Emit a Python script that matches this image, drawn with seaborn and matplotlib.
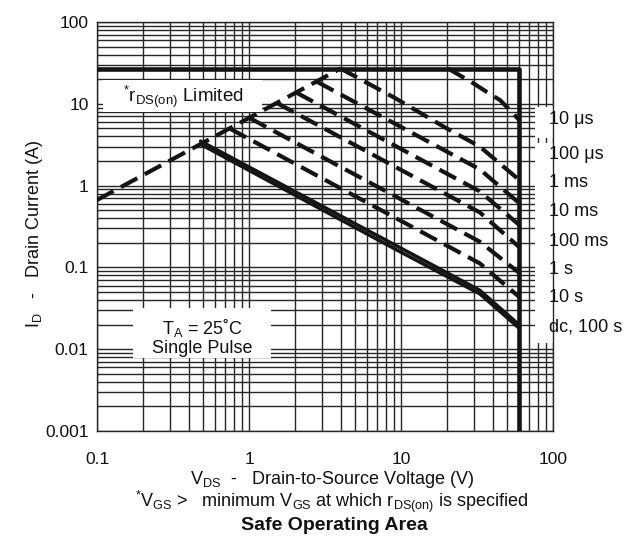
import matplotlib
matplotlib.use("Agg")
import matplotlib.pyplot as plt
from matplotlib.patches import Rectangle
import seaborn as sns
from matplotlib.ticker import LogLocator, FixedLocator, FixedFormatter, NullFormatter

sns.set_theme(style="white")
plt.rcParams["font.family"] = ["Liberation Sans", "DejaVu Sans"]
plt.rcParams["mathtext.fontset"] = "custom"
plt.rcParams["mathtext.rm"] = "Liberation Sans"
plt.rcParams["mathtext.it"] = "Liberation Sans:italic"
plt.rcParams["mathtext.bf"] = "Liberation Sans:bold"

# ---- data -------------------------------------------------------------
# package current limit, then the 60 V breakdown edge
limit_v = [0.1, 60, 60]
limit_i = [27, 27, 0.001]

# on-resistance limit
rds_v = [0.1, 4.0]
rds_i = [0.667, 27]

# single-pulse curves (V, A)
p10us_v = [20.4, 29.8, 36.8, 44.8, 52.1, 60]
p10us_i = [27, 17.9, 13.9, 11.1, 8.4, 6.3]

p100us_v = [4.0, 9.1, 20, 33, 60]
p100us_i = [27, 11.8, 5.0, 3.0, 1.17]

p1ms_v = [2.8, 33, 60]
p1ms_i = [18.6, 1.58, 0.61]

p10ms_v = [2.05, 33, 60]
p10ms_i = [13.7, 0.85, 0.33]

p100ms_v = [1.53, 33, 60]
p100ms_i = [10.2, 0.47, 0.177]

p1s_v = [1.01, 33, 60]
p1s_i = [6.7, 0.206, 0.0855]

p10s_v = [0.745, 33, 60]
p10s_i = [5.0, 0.112, 0.0435]

dc_v = [0.48, 9.4, 33, 60]
dc_i = [3.2, 0.163, 0.0475, 0.018]

dc100_v = [0.48, 33, 60]
dc100_i = [3.5, 0.0525, 0.0198]

x_ticks = [0.1, 1, 10, 100]
x_tick_labels = ["0.1", "1", "10", "100"]
y_ticks = [0.001, 0.01, 0.1, 1, 10, 100]
y_tick_labels = ["0.001", "0.01", "0.1", "1", "10", "100"]

pulse_labels = ["10 μs", "100 μs", "1 ms", "10 ms", "100 ms", "1 s", "10 s", "dc, 100 s"]
pulse_label_i = [6.34, 2.37, 1.076, 0.489, 0.21, 0.093, 0.0423, 0.0187]

# ---- figure -------------------------------------------------------------
W, H = 625, 542
fig = plt.figure(figsize=(W / 100, H / 100), dpi=100)
ax = fig.add_axes([97 / W, 1 - 431 / H, 456 / W, 409 / H])
ax.set_xscale("log")
ax.set_yscale("log")
ax.set_xlim(0.1, 100)
ax.set_ylim(0.001, 100)

# dense datasheet grid
ax.xaxis.set_major_locator(FixedLocator(x_ticks))
ax.xaxis.set_major_formatter(FixedFormatter(x_tick_labels))
ax.yaxis.set_major_locator(FixedLocator(y_ticks))
ax.yaxis.set_major_formatter(FixedFormatter(y_tick_labels))
ax.xaxis.set_minor_locator(LogLocator(base=10, subs=range(2, 10)))
ax.yaxis.set_minor_locator(LogLocator(base=10, subs=range(2, 10)))
ax.xaxis.set_minor_formatter(NullFormatter())
ax.yaxis.set_minor_formatter(NullFormatter())
ax.grid(True, which="both", color="#262626", linewidth=1.0)
ax.set_axisbelow(True)
for s in ax.spines.values():
    s.set_color("#262626")
    s.set_linewidth(1.0)
ax.tick_params(which="both", length=0)
ax.tick_params(axis="x", pad=15, labelsize=12.5, colors="#111111")
ax.tick_params(axis="y", pad=6, labelsize=12.5, colors="#111111")

dash = (0, (4.5, 2.0))
ink = "#141414"


def curve(v, i, style="-", lw=3.0, z=3):
    sns.lineplot(x=v, y=i, ax=ax, sort=False, estimator=None, color=ink,
                 linewidth=lw, linestyle=style, zorder=z)


curve(limit_v, limit_i, lw=3.3, z=4)
curve(rds_v, rds_i, style=dash)
for v, i in [(p10us_v, p10us_i), (p100us_v, p100us_i), (p1ms_v, p1ms_i),
             (p10ms_v, p10ms_i), (p100ms_v, p100ms_i), (p1s_v, p1s_i),
             (p10s_v, p10s_i)]:
    curve(v, i, style=dash)
curve(dc_v, dc_i, lw=2.5)
curve(dc100_v, dc100_i, lw=2.5)

# white panels behind the notes and the pulse-width labels
panel = dict(facecolor="white", edgecolor="none", zorder=1.5)
ax.add_patch(Rectangle((0.1095, 7.95), 1.22 - 0.1095, 19.5 - 7.95, **panel))
ax.add_patch(Rectangle((0.1726, 0.0078), 1.396 - 0.1726, 0.0319 - 0.0078, **panel))
ax.axhspan(3.8, 9.1, xmin=438 / 456, xmax=1, **panel)
ax.axhspan(0.0119, 3.3, xmin=438 / 456, xmax=1, **panel)

for lab, yi in zip(pulse_labels, pulse_label_i):
    ax.text(1.0 - 4 / 456, yi, lab, transform=ax.get_yaxis_transform(),
            ha="left", va="center", fontsize=13, color="#111111", clip_on=False)

ax.text(0.148, 12.1, r"$^{*}$r$_{\mathregular{DS(on)}}$ Limited", fontsize=13.5,
        ha="left", va="center", color="#111111", zorder=5)
ax.text(0.491, 0.0141, "T$_{\\mathregular{A}}$ = 25˚C\nSingle Pulse", fontsize=13,
        ha="center", va="center", color="#111111", linespacing=1.1, zorder=5)

fig.text(35 / W, 1 - 234 / H, "I$_{\\mathregular{D}}$   -   Drain Current (A)",
         rotation=90, ha="center", va="center", fontsize=13, color="#111111")
fig.text(332 / W, 1 - 479 / H,
         "V$_{\\mathregular{DS}}$  -   Drain-to-Source Voltage (V)",
         ha="center", va="center", fontsize=13, color="#111111")
fig.text(332 / W, 1 - 502 / H,
         "$^{*}$V$_{\\mathregular{GS}}$ >   minimum V$_{\\mathregular{GS}}$ at which "
         "r$_{\\mathregular{DS(on)}}$ is specified",
         ha="center", va="center", fontsize=13, color="#111111")
fig.text(334 / W, 1 - 526 / H, "Safe Operating Area", ha="center", va="center",
         fontsize=14, fontweight="bold", color="#111111")

fig.savefig("out.png", dpi=100, facecolor="white")
